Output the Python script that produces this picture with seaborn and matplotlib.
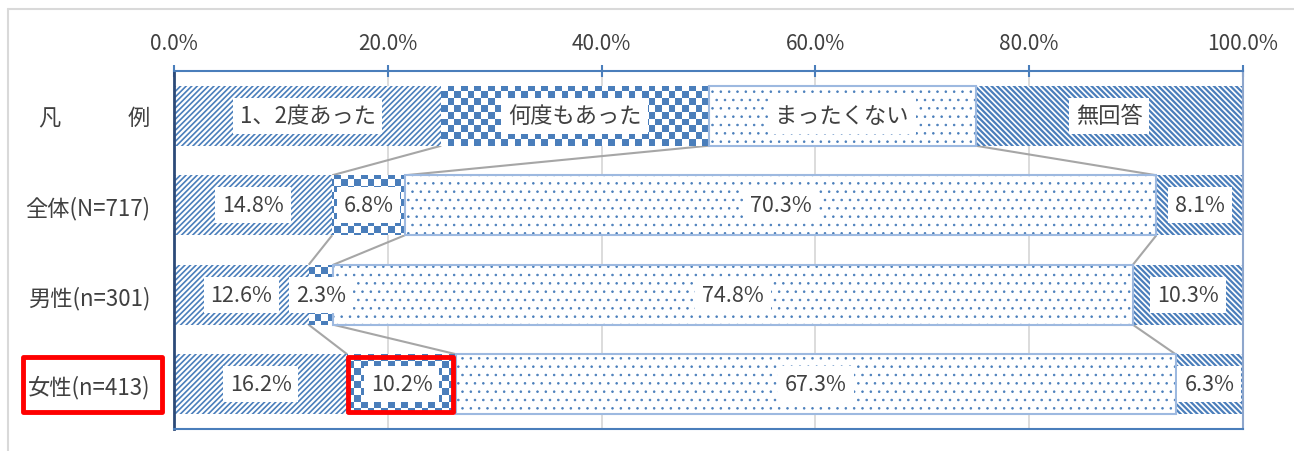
import numpy as np
import matplotlib
matplotlib.use("Agg")
import matplotlib.pyplot as plt
import matplotlib.transforms as mtransforms
from matplotlib.patches import Rectangle
from matplotlib.lines import Line2D
from matplotlib.colors import ListedColormap
import seaborn as sns

# ---------------- data ----------------
rows = ["凡　　　例", "全体(N=717)", "男性(n=301)", "女性(n=413)"]
series = ["1、2度あった", "何度もあった", "まったくない", "無回答"]
once_twice = [25.0, 14.8, 12.6, 16.2]
many_times = [25.0, 6.8, 2.3, 10.2]
never = [25.0, 70.3, 74.8, 67.3]
no_answer = [25.0, 8.1, 10.3, 6.3]
xticks = [0, 20, 40, 60, 80, 100]
highlight_row = "女性(n=413)"
highlight_series = "何度もあった"

# ---------------- style ----------------
sns.set_theme(style="white")
plt.rcParams['font.family'] = ['Noto Sans CJK JP', 'DejaVu Sans']

BLUE = '#4A7EBB'
LIGHT = '#9DB9E0'
TXT = '#404040'
GRID = '#D9D9D9'
CONN = '#A6A6A6'
BAR_W = 0.67
XTICK_FS = 15
YTICK_FS = 16
LBL_FS = 15.5
LEG_FS = 16

fig = plt.figure(figsize=(12.94, 4.52), dpi=100)
ax = fig.add_axes([174 / 1294, 1 - 430 / 452, 1069 / 1294, 358 / 452])

values = [once_twice, many_times, never, no_answer]
lefts = np.vstack([np.zeros(len(rows)), np.cumsum(values, axis=0)[:-1]])
hatches = ['//////', None, '..', '\\' * 6]
hatch_lw = [1.2, 1.0, 0.6, 1.6]

seg_patches = []
for k, vals in enumerate(values):
    n0 = len(ax.patches)
    with plt.rc_context({'hatch.linewidth': hatch_lw[k]}):
        sns.barplot(x=vals, y=rows, order=rows, orient='h', left=lefts[k],
                    width=BAR_W, color='white', edgecolor=BLUE,
                    hatch=hatches[k], linewidth=0, errorbar=None, ax=ax,
                    zorder=2)
    new = ax.patches[n0:]
    for p in new:
        p.set_facecolor('white')
        p.set_edgecolor(BLUE)
        if hasattr(p, 'set_hatch_linewidth'):
            p.set_hatch_linewidth(hatch_lw[k])
    seg_patches.append(new)

# checkerboard fill for "何度もあった"
bb = ax.get_window_extent()
ncols = int(round(bb.width / 6.7))
nrows = int(round(bb.height / 6.7))
chk = np.add.outer(np.arange(nrows), np.arange(ncols)) % 2
cmap = ListedColormap(['white', BLUE])
for p in seg_patches[1]:
    im = ax.imshow(chk, cmap=cmap, extent=[0, 100, 3.5, -0.5], aspect='auto',
                   interpolation='nearest', zorder=2.2)
    im.set_clip_path(p)

# light outline for "まったくない"
for p in seg_patches[2]:
    ax.add_patch(Rectangle(p.get_xy(), p.get_width(), p.get_height(),
                           fill=False, edgecolor=LIGHT, lw=1.5, zorder=2.4))

ax.set_xlim(0, 100)
ax.set_ylim(len(rows) - 0.5, -0.5)

# connector (series) lines between consecutive rows
cum = np.cumsum(values, axis=0)
for i in range(len(rows) - 1):
    for k in range(len(values) - 1):
        ax.plot([cum[k][i], cum[k][i + 1]], [i + BAR_W / 2, i + 1 - BAR_W / 2],
                color=CONN, lw=1.5, zorder=1.5, solid_capstyle='butt')

# labels
for i in range(len(rows)):
    for k, vals in enumerate(values):
        xc = lefts[k][i] + vals[i] / 2
        if i == 0:
            ax.text(xc, i, series[k], ha='center', va='center', fontsize=LEG_FS,
                    color=TXT, zorder=5,
                    bbox=dict(boxstyle='square,pad=0.3', facecolor='white',
                              edgecolor='none'))
        else:
            ax.text(xc, i, f"{vals[i]:.1f}%", ha='center', va='center',
                    fontsize=LBL_FS, color=TXT, zorder=5,
                    bbox=dict(boxstyle='square,pad=0.32', facecolor='white',
                              edgecolor='none'))

# axes styling
ax.set_xticks(xticks)
ax.set_xticklabels([f"{t:.1f}%" for t in xticks])
ax.xaxis.tick_top()
ax.tick_params(axis='x', top=True, bottom=False, direction='inout', length=9,
               width=1.5, color=BLUE, labelsize=XTICK_FS, labelcolor=TXT, pad=8)
ax.set_yticks(range(len(rows)))
ax.set_yticklabels(rows)
ax.tick_params(axis='y', left=False, length=0, labelsize=YTICK_FS,
               labelcolor=TXT, pad=17)
ax.set_xlabel('')
ax.set_ylabel('')
for t in xticks[1:-1]:
    ax.axvline(t, color=GRID, lw=1.3, zorder=0.5)
ax.spines['top'].set_color(BLUE)
ax.spines['top'].set_linewidth(1.5)
ax.spines['bottom'].set_color(BLUE)
ax.spines['bottom'].set_linewidth(1.5)
ax.spines['left'].set_color('#2C4A78')
ax.spines['left'].set_linewidth(2)
ax.spines['right'].set_color('#8EA6CC')
ax.spines['right'].set_linewidth(1.5)
for s in ax.spines.values():
    s.set_zorder(3)

# outer chart frame
fig.add_artist(Line2D([8 / 1294, 1], [1 - 10 / 452] * 2, transform=fig.transFigure,
                      color=GRID, lw=1.5))
fig.add_artist(Line2D([8 / 1294] * 2, [0, 1 - 10 / 452], transform=fig.transFigure,
                      color=GRID, lw=1.5))

# red highlight boxes
hi = rows.index(highlight_row)
hk = series.index(highlight_series)
ax.add_patch(Rectangle((lefts[hk][hi] + 0.05, hi - BAR_W / 2 + 0.03),
                       values[hk][hi] - 0.35, BAR_W - 0.06, fill=False,
                       edgecolor='#FF0000', lw=3.5, zorder=6, joinstyle='round',
                       clip_on=False))
fig.canvas.draw()
lbl = ax.get_yticklabels()[hi]
lb = lbl.get_window_extent()
x0 = (lb.x0 - 5) / fig.bbox.width
x1 = (lb.x1 + 12) / fig.bbox.width
trans = mtransforms.blended_transform_factory(fig.transFigure, ax.transData)
fig.add_artist(Rectangle((x0, hi - BAR_W / 2 + 0.03), x1 - x0, BAR_W - 0.06,
                         transform=trans, fill=False, edgecolor='#FF0000', lw=3.5,
                         joinstyle='round'))

fig.savefig('out.png', dpi=100)
